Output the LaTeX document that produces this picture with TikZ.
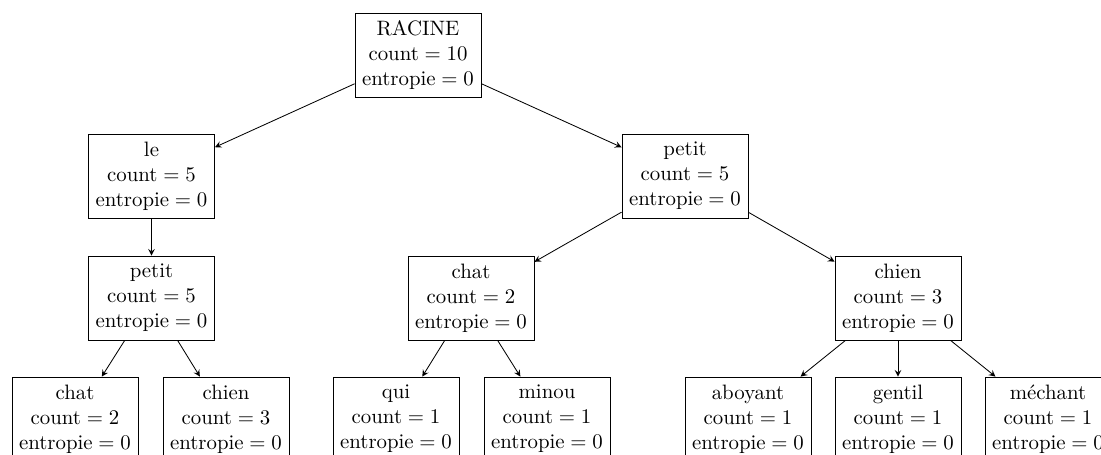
\documentclass[tikz,border=0pt]{standalone}
\begin{document}
\begin{tikzpicture}[x=0.48pt,y=-0.48pt,
  box/.style={draw, align=center, minimum width=60.5pt, minimum height=40.3pt, inner sep=3.33pt},
  edge/.style={-stealth}]
\useasboundingbox (0,0) rectangle (1101,455);
\clip (0,0) rectangle (1101,455);
\node[box] (root) at (418,55) {RACINE\\count${}={}$10\\entropie${}={}$0};
\node[box] (le) at (151.5,176) {le\\count${}={}$5\\entropie${}={}$0};
\node[box] (petitR) at (685,176) {petit\\count${}={}$5\\entropie${}={}$0};
\node[box] (petitL) at (151.5,298) {petit\\count${}={}$5\\entropie${}={}$0};
\node[box] (chatB) at (471,298) {chat\\count${}={}$2\\entropie${}={}$0};
\node[box] (chienB) at (898,298) {chien\\count${}={}$3\\entropie${}={}$0};
\node[box] (chatA) at (75,419) {chat\\count${}={}$2\\entropie${}={}$0};
\node[box] (chienA) at (226,419) {chien\\count${}={}$3\\entropie${}={}$0};
\node[box] (qui) at (396,419) {qui\\count${}={}$1\\entropie${}={}$0};
\node[box] (minou) at (547,419) {minou\\count${}={}$1\\entropie${}={}$0};
\node[box] (aboyant) at (748,419) {aboyant\\count${}={}$1\\entropie${}={}$0};
\node[box] (gentil) at (898,419) {gentil\\count${}={}$1\\entropie${}={}$0};
\node[box] (mechant) at (1048,419) {méchant\\count${}={}$1\\entropie${}={}$0};
\draw[edge] (root) -- (le);
\draw[edge] (root) -- (petitR);
\draw[edge] (le) -- (petitL);
\draw[edge] (petitL) -- (chatA);
\draw[edge] (petitL) -- (chienA);
\draw[edge] (petitR) -- (chatB);
\draw[edge] (petitR) -- (chienB);
\draw[edge] (chatB) -- (qui);
\draw[edge] (chatB) -- (minou);
\draw[edge] (chienB) -- (aboyant);
\draw[edge] (chienB) -- (gentil);
\draw[edge] (chienB) -- (mechant);
\end{tikzpicture}
\end{document}
